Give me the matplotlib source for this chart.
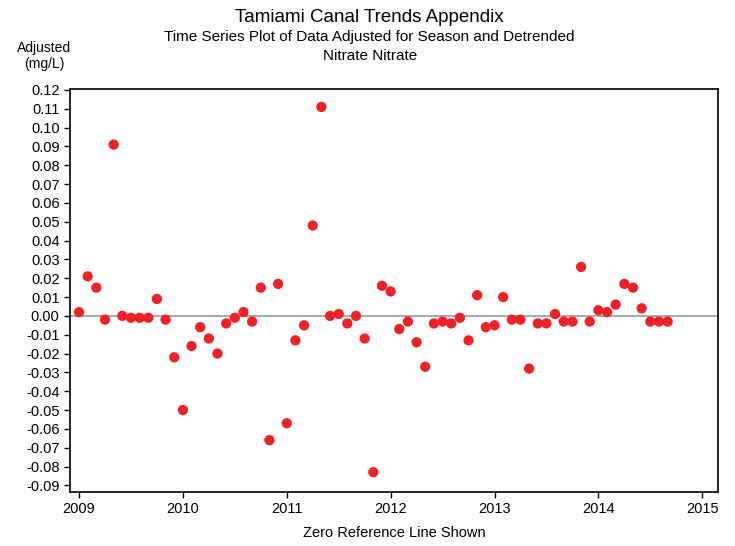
import numpy as np
import matplotlib
matplotlib.use("Agg")
import matplotlib.pyplot as plt

plt.rcParams['font.family'] = ['Liberation Sans', 'DejaVu Sans']

# monthly adjusted values starting Jan 2009
start_year = 2009
adjusted = [0.002, 0.021, 0.015, -0.002, 0.091, 0.000, -0.001, -0.001, -0.001, 0.009,
            -0.002, -0.022, -0.050, -0.016, -0.006, -0.012, -0.020, -0.004, -0.001, 0.002,
            -0.003, 0.015, -0.066, 0.017, -0.057, -0.013, -0.005, 0.048, 0.111, 0.000,
            0.001, -0.004, 0.000, -0.012, -0.083, 0.016, 0.013, -0.007, -0.003, -0.014,
            -0.027, -0.004, -0.003, -0.004, -0.001, -0.013, 0.011, -0.006, -0.005, 0.010,
            -0.002, -0.002, -0.028, -0.004, -0.004, 0.001, -0.003, -0.003, 0.026, -0.003,
            0.003, 0.002, 0.006, 0.017, 0.015, 0.004, -0.003, -0.003, -0.003]
dates = start_year + np.arange(len(adjusted)) / 12.0

yticks = np.round(np.arange(-0.09, 0.121, 0.01), 2)
xticks = [2009, 2010, 2011, 2012, 2013, 2014, 2015]

fig = plt.figure(figsize=[7.35, 5.46], dpi=100)
ax = fig.add_axes([0.0952, 0.099, 0.882, 0.738])

ax.axhline(0, color='#999999', linewidth=1.2, zorder=1)
ax.scatter(dates, adjusted, s=55, color='#ee2227', edgecolors='none', zorder=3)

ax.set_xlim(2008.913, 2015.154)
ax.set_ylim(-0.0935, 0.1205)
ax.set_yticks(yticks)
ax.set_yticklabels(["%.2f" % (v if abs(v) > 1e-9 else 0.0) for v in yticks])
ax.set_xticks(xticks)
ax.tick_params(direction='out', length=4, width=1, labelsize=10.5, colors='black')
for sp in ax.spines.values():
    sp.set_linewidth(1.2)

ax.set_xlabel("Zero Reference Line Shown", fontsize=10.5, labelpad=7)

fig.text(0.503, 0.968, "Tamiami Canal Trends Appendix", ha='center', va='center', fontsize=13.5)
fig.text(0.503, 0.932, "Time Series Plot of Data Adjusted for Season and Detrended",
         ha='center', va='center', fontsize=11)
fig.text(0.503, 0.897, "Nitrate Nitrate", ha='center', va='center', fontsize=11)
fig.text(0.06, 0.912, "Adjusted", ha='center', va='center', fontsize=10)
fig.text(0.06, 0.882, "(mg/L)", ha='center', va='center', fontsize=10)

plt.savefig('out.png', dpi=100)
plt.close()
